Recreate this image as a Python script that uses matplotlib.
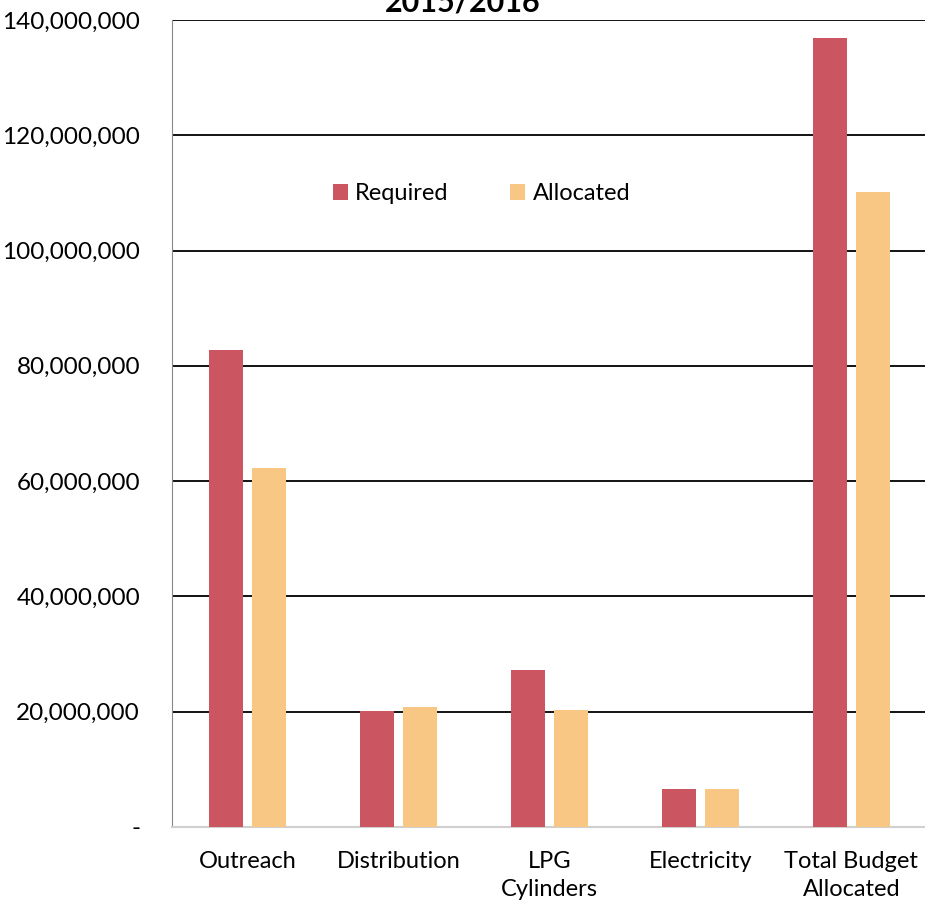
import numpy as np
import matplotlib.pyplot as plt

categories = ["Outreach", "Distribution", "LPG\nCylinders", "Electricity", "Total Budget\nAllocated"]
required = [82.8e6, 20.1e6, 27.2e6, 6.6e6, 136.9e6]
allocated = [62.3e6, 20.8e6, 20.3e6, 6.6e6, 110.2e6]
yticks = [0, 20e6, 40e6, 60e6, 80e6, 100e6, 120e6, 140e6]
yticklabels = ["-", "20,000,000", "40,000,000", "60,000,000", "80,000,000",
               "100,000,000", "120,000,000", "140,000,000"]

plt.rcParams['font.family'] = ['Lato', 'DejaVu Sans']

fig = plt.figure(figsize=(9.25, 9.05), dpi=100)
ax = fig.add_axes([0.186, 0.0862, 0.816, 0.8918])

x = np.arange(len(categories))
ax.bar(x - 0.142, required, width=0.225, color="#CB5560", label="Required", zorder=3)
ax.bar(x + 0.142, allocated, width=0.225, color="#F9C784", label="Allocated", zorder=3)

ax.set_xlim(-0.5, len(categories) - 0.5)
ax.set_ylim(0, 140e6)
ax.set_yticks(yticks)
ax.set_yticklabels(yticklabels, fontsize=17.5)
ax.set_xticks(x)
ax.set_xticklabels(categories, fontsize=17, linespacing=1.45)
ax.tick_params(axis="y", length=0, pad=23)
ax.tick_params(axis="x", length=0, pad=17)

for y in yticks[1:]:
    ax.axhline(y, color="black", lw=1.3, zorder=1)

for s in ["top", "right"]:
    ax.spines[s].set_visible(False)
ax.spines["left"].set_color("#888888")
ax.spines["bottom"].set_color("#D0D0D0")
ax.spines["bottom"].set_linewidth(1.5)

ax.legend(loc="center", bbox_to_anchor=(0.41, 0.785), ncol=2, frameon=False,
          fontsize=17, handlelength=0.65, handleheight=0.65, handletextpad=0.3,
          columnspacing=2.6)

fig.text(0.5, 0.997, "2015/2016", ha="center", va="center", fontsize=22, fontweight="bold")

fig.savefig("out.png")
